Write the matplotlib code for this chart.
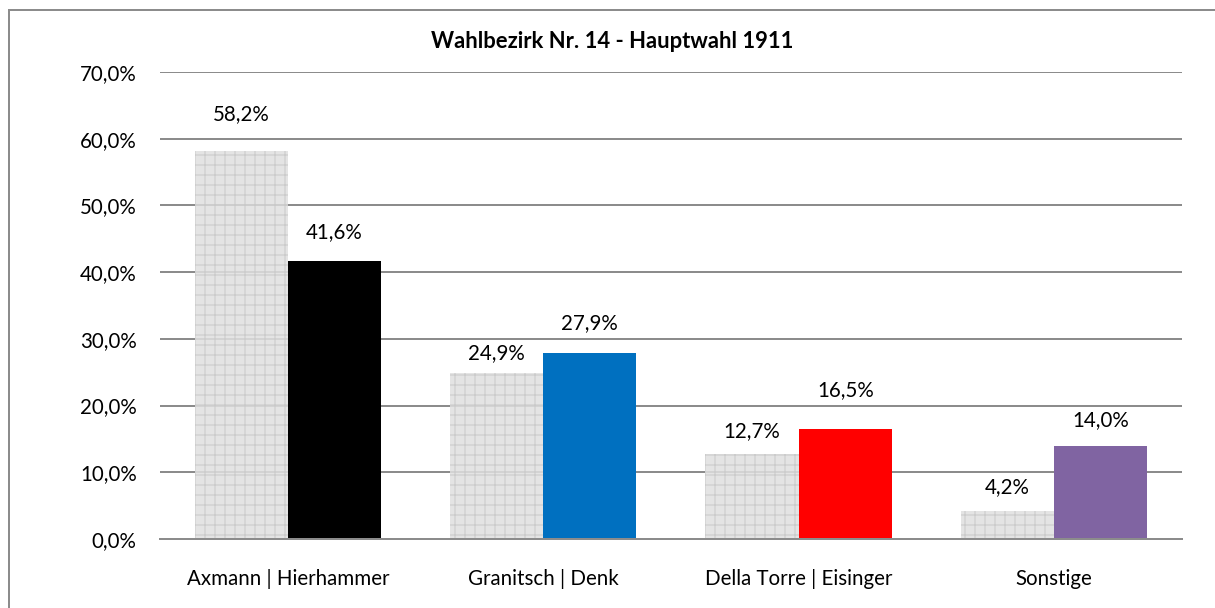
import matplotlib
matplotlib.use('Agg')
import matplotlib.pyplot as plt
import numpy as np
from matplotlib.patches import Rectangle

plt.rcParams['font.family'] = ['Lato', 'DejaVu Sans']
plt.rcParams['hatch.color'] = '#c8c8c8'
plt.rcParams['hatch.linewidth'] = 0.7

# data
categories = ['Axmann | Hierhammer', 'Granitsch | Denk', 'Della Torre | Eisinger', 'Sonstige']
prev_values = [58.2, 24.9, 12.7, 4.2]     # hatched grey bars
main_values = [41.6, 27.9, 16.5, 14.0]
main_colors = ['#000000', '#0070c0', '#ff0000', '#8064a2']
yticks = [0, 10, 20, 30, 40, 50, 60, 70]

# label offsets above bars (points), as placed in the original
prev_offsets = [22, 12, 14, 14.5]
main_offsets = [17.5, 18, 23.5, 15.5]

DPI = 120
W, H = 1215, 608
fig = plt.figure(figsize=(W / DPI, H / DPI), dpi=DPI)
ax = fig.add_axes([0.1317, 0.1135, 0.9728 - 0.1317, 0.8816 - 0.1135])

x = np.arange(len(categories))
w = 0.365
fs = 12.3

ax.set_axisbelow(True)
ax.yaxis.grid(True, color='#8c8c8c', linewidth=1.2)
b1 = ax.bar(x - w / 2, prev_values, w, color='#e0e0e0', hatch='++', edgecolor='#c8c8c8',
            linewidth=0, alpha=0.85, zorder=2)
b2 = ax.bar(x + w / 2, main_values, w, color=main_colors, linewidth=0, zorder=2)

def pct(v):
    return '{:.1f}%'.format(v).replace('.', ',')

for rect, v, off in zip(b1, prev_values, prev_offsets):
    ax.annotate(pct(v), (rect.get_x() + rect.get_width() / 2, v), xytext=(0, off),
                textcoords='offset points', ha='center', va='center', fontsize=fs)
for rect, v, off in zip(b2, main_values, main_offsets):
    ax.annotate(pct(v), (rect.get_x() + rect.get_width() / 2, v), xytext=(0, off),
                textcoords='offset points', ha='center', va='center', fontsize=fs)

ax.set_xlim(-0.5, len(categories) - 0.5)
ax.set_ylim(0, 70)
ax.set_yticks(yticks)
ax.set_yticklabels([pct(t) for t in yticks], fontsize=fs)
ax.set_xticks(x)
ax.set_xticklabels(categories, fontsize=fs)
ax.tick_params(length=0)
ax.tick_params(axis='y', pad=14)
ax.tick_params(axis='x', pad=18)
for s in ['top', 'right', 'left']:
    ax.spines[s].set_visible(False)
ax.spines['bottom'].set_color('#8c8c8c')
ax.spines['bottom'].set_linewidth(1.2)
ax.spines['bottom'].set_zorder(3)

fig.text(0.5035, 1 - 41 / 608, 'Wahlbezirk Nr. 14 - Hauptwahl 1911', ha='center', va='center',
         fontsize=13.2, fontweight='bold')

# chart border: left and top edges only, as thin filled strips
fig.patches.append(Rectangle((8 / W, 0), 2 / W, 1 - 9 / H, transform=fig.transFigure,
                             facecolor='#8c8c8c', edgecolor='none', linewidth=0))
fig.patches.append(Rectangle((8 / W, 1 - 11 / H), 1 - 8 / W, 2 / H, transform=fig.transFigure,
                             facecolor='#8c8c8c', edgecolor='none', linewidth=0))

fig.savefig('out.png', dpi=DPI)
